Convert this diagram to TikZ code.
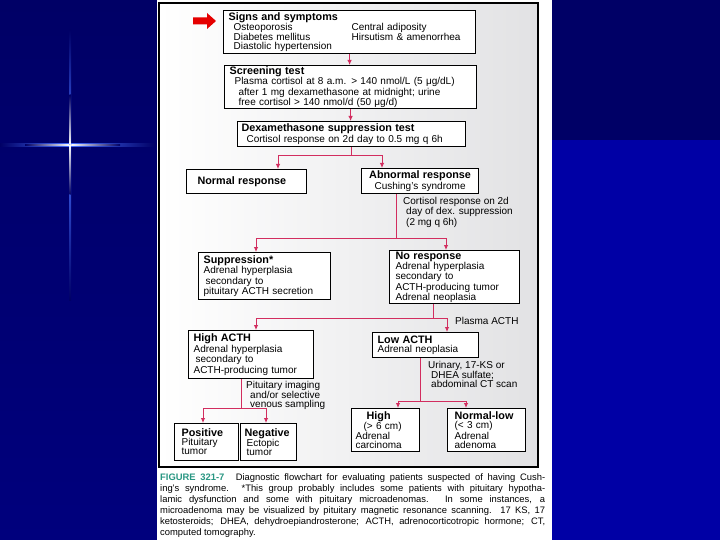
\documentclass[tikz,border=0pt]{standalone}
\usepackage{fontspec}
\setmainfont{Liberation Sans}
\usetikzlibrary{arrows.meta}

\definecolor{navy}{RGB}{0,0,102}
\definecolor{navylow}{RGB}{0,0,125}
\definecolor{royal}{RGB}{0,0,165}
\definecolor{flareblue}{RGB}{70,110,255}
\definecolor{flowred}{RGB}{210,45,95}
\definecolor{figteal}{RGB}{40,150,130}
\definecolor{panelgray}{RGB}{226,226,228}

\newcommand{\boxtitle}[1]{{\fontsize{10.8}{9}\selectfont\bfseries #1}}

\tikzset{
  box/.style={draw=black, line width=1.2pt, fill=white, anchor=north west,
    inner ysep=0pt, align=left, font=\fontsize{10}{9}\selectfont},
  link/.style={draw=flowred, line width=0.9pt},
  arr/.style={link, ->},
  note/.style={anchor=north west, inner sep=0pt, align=left,
    font=\fontsize{10}{9}\selectfont},
}

\begin{document}
\begin{tikzpicture}[x=1pt, y=-1pt, >={Latex[length=5pt,width=4.5pt]}]
    \useasboundingbox (0,0) rectangle (720,540);
    % slide background
    \shade[top color=navy, bottom color=navylow] (0,0) rectangle (157,540);
    \fill[navy] (552,0) rectangle (720,140);
    \fill[royal] (552,140) rectangle (720,540);
    % lens flare
    \shade[left color=navy, right color=flareblue] (0,143.5) rectangle (70,146.5);
    \shade[left color=flareblue, right color=navy] (70,143.5) rectangle (155,146.5);
    \shade[left color=navy, right color=white] (25,144.4) rectangle (70,145.6);
    \shade[left color=white, right color=navy] (70,144.4) rectangle (120,145.6);
    \shade[top color=navy, bottom color=flareblue] (69,30) rectangle (71,145);
    \shade[top color=flareblue, bottom color=navy] (69,145) rectangle (71,300);
    \shade[top color=navy, bottom color=white] (69.5,95) rectangle (70.5,145);
    \shade[top color=white, bottom color=navy] (69.5,145) rectangle (70.5,195);
    % page and panel
    \fill[white] (157,0) rectangle (552,540);
    \draw[line width=1.2pt, left color=white, right color=panelgray] (159,3) rectangle (538,467);
    % pointer
    \fill[red!90!black] (193,17.5) -- (207,17.5) -- (207,13) -- (216,21) -- (207,29)
      -- (207,24.5) -- (193,24.5) -- cycle;

    % boxes
    \node[box, minimum width=252pt, minimum height=43pt, inner xsep=5pt, text width=242pt]
      (sym) at (223,10) {\boxtitle{Signs and symptoms}\\
      \hspace*{5pt}\makebox[118pt][l]{Osteoporosis}Central adiposity\\
      \hspace*{5pt}\makebox[118pt][l]{Diabetes mellitus}Hirsutism \& amenorrhea\\
      \hspace*{5pt}Diastolic hypertension};
    \node[box, minimum width=252pt, minimum height=43pt, inner xsep=5pt, text width=242pt]
      (screen) at (224,65) {\boxtitle{Screening test}\\
      \hspace*{5pt}Plasma cortisol at 8 a.m. > 140 nmol/L (5 μg/dL)\\
      \hspace*{9pt}after 1 mg dexamethasone at midnight; urine\\
      \hspace*{9pt}free cortisol > 140 nmol/d (50 μg/d)};
    \node[box, minimum width=228pt, minimum height=25pt, inner xsep=4pt, text width=220pt]
      (dex) at (237,121) {\boxtitle{Dexamethasone suppression test}\\
      \hspace*{5pt}Cortisol response on 2d day to 0.5 mg q 6h};
    \node[box, minimum width=120pt, minimum height=24pt, inner xsep=11pt, text width=98pt]
      (normal) at (186,169) {\boxtitle{Normal response}};
    \node[box, minimum width=117pt, minimum height=25pt, inner xsep=4pt, text width=109pt, align=center]
      (abn) at (361,168) {\boxtitle{Abnormal response}\\Cushing's syndrome};
    \node[box, minimum width=132pt, minimum height=47pt, inner xsep=5pt, text width=122pt]
      (supp) at (198,252) {\boxtitle{Suppression*}\\Adrenal hyperplasia\\
      \hspace*{2pt}secondary to\\pituitary ACTH secretion};
    \node[box, minimum width=130pt, minimum height=53pt, inner xsep=6pt, text width=118pt]
      (nores) at (389,250) {\boxtitle{No response}\\Adrenal hyperplasia\\secondary to\\
      ACTH-producing tumor\\Adrenal neoplasia};
    \node[box, minimum width=125pt, minimum height=48pt, inner xsep=5pt, text width=115pt]
      (highacth) at (188,330) {\boxtitle{High ACTH}\\Adrenal hyperplasia\\
      \hspace*{2pt}secondary to\\ACTH-producing tumor};
    \node[box, minimum width=106pt, minimum height=25pt, inner xsep=5pt, text width=96pt]
      (lowacth) at (372,332) {\boxtitle{Low ACTH}\\Adrenal neoplasia};
    \node[box, minimum width=64pt, minimum height=37pt, inner xsep=7pt, text width=50pt]
      (pos) at (174,423) {\boxtitle{Positive}\\Pituitary\\tumor};
    \node[box, minimum width=56pt, minimum height=37pt, inner xsep=4pt, text width=48pt]
      (neg) at (240,423) {\boxtitle{Negative}\\\hspace*{2pt}Ectopic\\\hspace*{2pt}tumor};
    \node[box, minimum width=68pt, minimum height=43pt, inner xsep=4pt, text width=60pt]
      (high) at (351,408) {\hspace*{11pt}\boxtitle{High}\\\hspace*{8pt}(> 6 cm)\\Adrenal\\carcinoma};
    \node[box, minimum width=78pt, minimum height=43pt, inner xsep=7pt, text width=64pt]
      (normlow) at (447,408) {\boxtitle{Normal-low}\\(< 3 cm)\\Adrenal\\adenoma};

    % labels on the branches
    \node[note] (dexnote) at (403,197) {Cortisol response on 2d\\
      \hspace*{3pt}day of dex. suppression\\\hspace*{3pt}(2 mg q 6h)};
    \node[note] (acthnote) at (455,317) {Plasma ACTH};
    \node[note] (pitnote) at (246,381) {Pituitary imaging\\
      \hspace*{4pt}and/or selective\\\hspace*{4pt}venous sampling};
    \node[note] (urinote) at (428,361) {Urinary, 17-KS or\\
      \hspace*{3pt}DHEA sulfate;\\\hspace*{3pt}abdominal CT scan};

    % connectors
    \draw[arr] (sym.south) -- (sym.south |- screen.north);
    \draw[arr] (screen.south) -- (screen.south |- dex.north);

    \coordinate (s1L) at (278,155);
    \coordinate (s1R) at (382,155);
    \draw[arr] (dex.south) |- (s1L) -- (s1L |- normal.north);
    \draw[arr] (dex.south) |- (s1R) -- (s1R |- abn.north);

    \coordinate (s2) at (396,238);
    \coordinate (s2L) at (256,238);
    \coordinate (s2R) at (446,238);
    \draw[arr] (s2 |- abn.south) |- (s2L) -- (s2L |- supp.north);
    \draw[arr] (s2 |- abn.south) |- (s2R) -- (s2R |- nores.north);

    \coordinate (s3) at (433,318);
    \coordinate (s3L) at (256,318);
    \coordinate (s3R) at (447,318);
    \draw[arr] (s3 |- nores.south) |- (s3L) -- (s3L |- highacth.north);
    \draw[arr] (s3 |- nores.south) |- (s3R) -- (s3R |- lowacth.north);

    \coordinate (s4) at (241,408);
    \coordinate (s4L) at (203,408);
    \coordinate (s4R) at (266,408);
    \draw[arr] (s4 |- highacth.south) |- (s4L) -- (s4L |- pos.north);
    \draw[arr] (s4 |- highacth.south) |- (s4R) -- (s4R |- neg.north);

    \coordinate (s5) at (420,401);
    \coordinate (s5L) at (398,401);
    \coordinate (s5R) at (466,401);
    \draw[arr] (s5 |- lowacth.south) |- (s5L) -- (s5L |- high.north);
    \draw[arr] (s5 |- lowacth.south) |- (s5R) -- (s5R |- normlow.north);

    % caption
    \node[anchor=north west, inner sep=0pt, text width=385pt, align=justify,
      font=\fontsize{9.4}{11}\selectfont] (caption) at (160,473.5)
      {{\color{figteal}\bfseries FIGURE 321-7}\hspace{1.2em}Diagnostic flowchart for evaluating patients suspected of having Cush-\linebreak
      ing's syndrome. *This group probably includes some patients with pituitary hypotha-\linebreak
      lamic dysfunction and some with pituitary microadenomas. In some instances, a\linebreak
      microadenoma may be visualized by pituitary magnetic resonance scanning. 17 KS, 17\linebreak
      ketosteroids; DHEA, dehydroepiandrosterone; ACTH, adrenocorticotropic hormone; CT,\linebreak
      computed tomography.};
\end{tikzpicture}
\end{document}
